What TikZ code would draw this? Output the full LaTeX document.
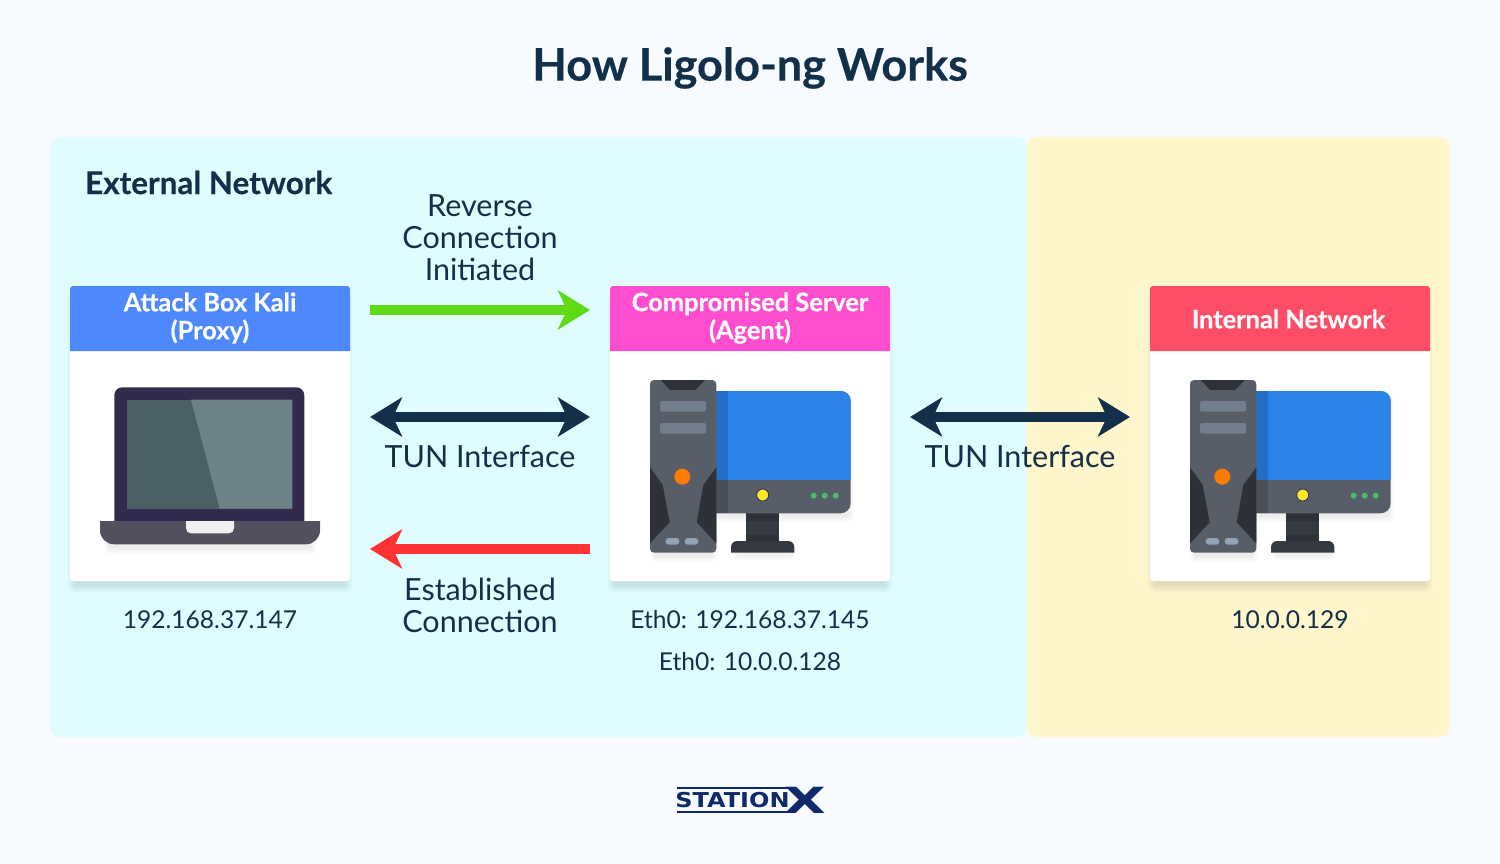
\documentclass[tikz,border=0pt]{standalone}
\usepackage{fontspec}
\setmainfont{Lato}[BoldFeatures={FakeBold=0.35}]
\newfontfamily\logofont{DejaVu Sans}
\usepackage{xcolor}
\usetikzlibrary{arrows.meta}

\definecolor{pagebg}{HTML}{F7FBFF}
\definecolor{extbg}{HTML}{E0FCFF}
\definecolor{intbg}{HTML}{FFF6CC}
\definecolor{inkblue}{HTML}{12304A}
\definecolor{logoblue}{HTML}{0F2A6B}
\definecolor{attackhead}{HTML}{4D88FF}
\definecolor{serverhead}{HTML}{FF4DCF}
\definecolor{internalhead}{HTML}{FF4D67}
\definecolor{towergray}{HTML}{575E68}
\definecolor{towerdark}{HTML}{2E3138}
\definecolor{standgray}{HTML}{353A42}
\definecolor{drivegray}{HTML}{737E8C}
\definecolor{pillgray}{HTML}{92A5B8}
\definecolor{screenblue}{HTML}{2B82E8}
\definecolor{ledorange}{HTML}{FF7A00}
\definecolor{ledyellow}{HTML}{FFE626}
\definecolor{ledgreen}{HTML}{4CBB6C}
\definecolor{lidpurple}{HTML}{322B4E}
\definecolor{glassdark}{HTML}{4B5F66}
\definecolor{glasslight}{HTML}{6C8188}
\definecolor{basegray}{HTML}{53505F}
\definecolor{flowgreen}{HTML}{60D916}
\definecolor{flowred}{HTML}{FF3333}

\tikzset{
    cardbox/.style={fill=white, rounded corners=3pt, minimum width=280pt, minimum height=295pt, inner sep=0pt},
    headtext/.style={text=white, font=\fontsize{25.4}{28}\selectfont\bfseries, align=center, inner sep=0pt},
    bigtext/.style={text=inkblue, font=\fontsize{30.5}{32}\selectfont, align=center, inner sep=0pt},
    addrtext/.style={text=inkblue, font=\fontsize{24.6}{28}\selectfont, align=center, inner sep=0pt},
    flowarrow/.style={line width=10pt, -{Stealth[length=32pt, width=39pt, inset=9pt]}},
    botharrow/.style={line width=10pt, {Stealth[length=32pt, width=39pt, inset=9pt]}-{Stealth[length=32pt, width=39pt, inset=9pt]}, draw=inkblue},
}

\newcommand{\softshadow}[5]{%
    \foreach \blur in {1,...,#5}
        \fill[teal!40!black, opacity=.012, rounded corners=\blur pt] ({#1-\blur},{#2-\blur}) rectangle ({#3+\blur},{#4+\blur});
}

\newcommand{\headbar}[2]{%
    \fill[#2] (#1,351) {[rounded corners=3pt] -- (#1,286) -- ({#1+280},286)} -- ({#1+280},351) -- cycle;
}

\newcommand{\pcicon}[1]{%
    \begin{scope}[shift={(#1,380)}]
        \softshadow{70}{20}{198}{136}{6}
        \softshadow{88}{168}{140}{175}{5}
        \softshadow{6}{20}{62}{176}{6}
        \fill[standgray] (96,133) rectangle (129,161);
        \fill[towerdark] (96,133) rectangle (129,141);
        \fill[towerdark] (96,155) rectangle (129,161);
        \fill[standgray] (81,172.7) {[rounded corners=6pt] -- (81,161) -- (144.3,161)} -- (144.3,172.7) -- cycle;
        \fill[towergray, rounded corners=10pt] (40,11) rectangle (200.7,133.3);
        \begin{scope}
            \clip (40,11) rectangle (200.7,99);
            \fill[screenblue, rounded corners=10pt] (40,11) rectangle (200.7,133.3);
        \end{scope}
        \fill[black, opacity=.15] (60,11) rectangle (78,133.3);
        \fill[ledyellow, draw=standgray!80!blue, line width=.8pt] (112.7,115) circle (6);
        \foreach \dotx in {163.7,174.7,185.7}
            \fill[ledgreen] (\dotx,115.7) circle (3);
        \fill[towergray, rounded corners=4pt] (0,0) rectangle (66.3,172.7);
        \fill[towerdark] (10.7,0) -- (55,0) -- (45,10) -- (20,10) -- cycle;
        \fill[drivegray, rounded corners=1.5pt] (10,21) rectangle (56,31.7);
        \fill[drivegray, rounded corners=1.5pt] (10,43) rectangle (56,53.7);
        \fill[ledorange] (32.3,96.7) circle (8);
        \fill[towerdark] (0,87.3) -- (12.7,105) -- (19.7,142.3) -- (0,163.3) -- cycle;
        \fill[towerdark] (66.3,87.3) -- (53.3,105) -- (46.7,142.3) -- (66.3,163.3) -- cycle;
        \fill[pillgray, rounded corners=3pt] (15.7,158) rectangle (29.3,164.7);
        \fill[pillgray, rounded corners=3pt] (34.7,158) rectangle (48.3,164.7);
    \end{scope}
}

\begin{document}
\begin{tikzpicture}[x=1pt, y=-1pt]
    \useasboundingbox (0,0) rectangle (1500,864);
    \fill[pagebg] (0,0) rectangle (1500,864);
    \fill[extbg, rounded corners=10pt] (50,137) rectangle (1027,737);
    \fill[intbg, rounded corners=10pt] (1027,137) rectangle (1450,737);

    \node[text=inkblue, font=\fontsize{45}{48}\selectfont\bfseries, inner sep=0pt] (title) at (750,68) {How Ligolo-ng Works};
    \node[text=inkblue, font=\fontsize{31.4}{34}\selectfont\bfseries, anchor=west, inner sep=0pt] (extlabel) at (85,182.5) {External Network};

    \softshadow{76}{300}{344}{584}{9}
    \softshadow{616}{300}{884}{584}{9}
    \softshadow{1156}{300}{1424}{584}{9}
    \node[cardbox] (attackcard) at (210,433.5) {};
    \node[cardbox] (servercard) at (750,433.5) {};
    \node[cardbox] (internalcard) at (1290,433.5) {};

    \headbar{70}{attackhead}
    \headbar{610}{serverhead}
    \headbar{1150}{internalhead}
    \node[headtext] (attacktitle) at (210,318) {Attack Box Kali\\(Proxy)};
    \node[headtext] (servertitle) at (750,318) {Compromised Server\\(Agent)};
    \node[headtext] (internaltitle) at (1288.5,319) {Internal Network};

    \softshadow{110}{532}{310}{548}{6}
    \fill[lidpurple, rounded corners=8pt] (114.3,530) -- (114.3,387.3) -- (304.3,387.3) -- (304.3,530) -- cycle;
    \fill[glassdark] (126.7,399.7) rectangle (292.3,508.7);
    \fill[glasslight] (191,399.7) -- (292.3,399.7) -- (292.3,508.7) -- (219.7,508.7) -- cycle;
    \fill[basegray] (100,521) -- (320,521) {[rounded corners=14pt] -- (320,544.3) -- (100,544.3)} -- cycle;
    \fill[white!94!black] (186,521) -- (234,521) {[rounded corners=5pt] -- (234,533.3) -- (186,533.3)} -- cycle;

    \pcicon{650}
    \pcicon{1190}

    \coordinate (revstart) at (370,310);
    \coordinate (revend) at (590,310);
    \coordinate (tunleft) at (370,417);
    \coordinate (tunright) at (590,417);
    \coordinate (estart) at (590,549);
    \coordinate (eend) at (370,549);
    \coordinate (tunleftb) at (910,417);
    \coordinate (tunrightb) at (1130,417);
    \draw[flowarrow, draw=flowgreen] (revstart) -- (revend);
    \draw[botharrow] (tunleft) -- (tunright);
    \draw[flowarrow, draw=flowred] (estart) -- (eend);
    \draw[botharrow] (tunleftb) -- (tunrightb);

    \node[bigtext] (revlabel) at (480,238) {Reverse\\Connection\\Initiated};
    \node[bigtext] (tunlabel) at (480,457) {TUN Interface};
    \node[bigtext] (tunlabelb) at (1020,457) {TUN Interface};
    \node[bigtext] (estlabel) at (480,605) {Established\\Connection};

    \node[addrtext] (attackip) at (210,620) {192.168.37.147};
    \node[addrtext] (serveripa) at (750,620) {Eth0: 192.168.37.145};
    \node[addrtext] (serveripb) at (750,662) {Eth0: 10.0.0.128};
    \node[addrtext] (internalip) at (1290,620) {10.0.0.129};

    \fill[logoblue] (677,787) rectangle (788,789);
    \fill[logoblue] (677,811) rectangle (788,813);
    \node[text=logoblue, font=\logofont\bfseries\fontsize{20.5}{22}\selectfont, inner sep=0pt, xscale=1.17] (logotext) at (732.5,800) {STATION};
    \node[text=logoblue, font=\logofont\bfseries\fontsize{36}{38}\selectfont, inner sep=0pt, xscale=1.5] (logox) at (805,800) {X};
\end{tikzpicture}
\end{document}
